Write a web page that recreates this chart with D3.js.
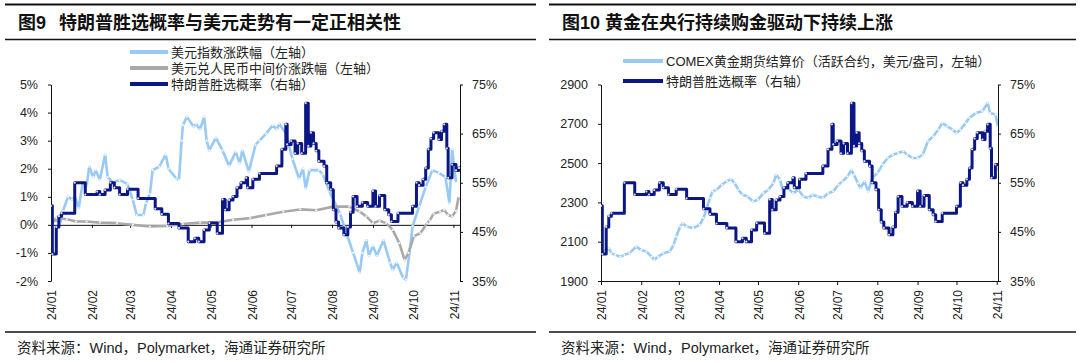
<!DOCTYPE html>
<html>
<head>
<meta charset="utf-8">
<script src="https://cdn.jsdelivr.net/npm/d3@7"></script>
<style>
  body { margin: 0; background: #fff; }
  svg { display: block; font-family: "Liberation Sans", Arial, "Noto Sans CJK SC", sans-serif; }
  .cjk { font-family: "Liberation Sans", "Noto Sans CJK SC", sans-serif; }
</style>
</head>
<body>
<div id="chart"></div>
<script>
/* CONSTANTS */
const W = 1080, H = 363;
const navy = "#0b1784", sky = "#99c9f5", grey = "#a9a9a9";

/* DATA */
// 特朗普胜选概率 (%), Polymarket
const trumpProb = [
  ["2024-01-01", 50.3], ["2024-01-02", 40.5], ["2024-01-05", 46], ["2024-01-07", 48.2], ["2024-01-09", 48.8],
  ["2024-01-19", 55], ["2024-01-27", 52.6], ["2024-02-05", 53.2], ["2024-02-07", 52.6], ["2024-02-11", 53.5],
  ["2024-02-15", 55], ["2024-02-18", 54], ["2024-02-22", 52.6], ["2024-02-28", 53.7], ["2024-03-07", 51.8],
  ["2024-03-20", 49.7], ["2024-03-25", 48.6], ["2024-03-30", 46.7], ["2024-04-07", 45.8], ["2024-04-14", 43],
  ["2024-04-19", 43.7], ["2024-04-22", 43], ["2024-04-26", 45.4], ["2024-04-30", 46.8], ["2024-05-06", 44.7],
  ["2024-05-10", 51.6], ["2024-05-12", 49.5], ["2024-05-15", 51.5], ["2024-05-18", 52.2], ["2024-05-21", 54],
  ["2024-05-24", 55], ["2024-05-28", 56], ["2024-05-29", 54], ["2024-06-02", 55.7], ["2024-06-07", 56.9],
  ["2024-06-20", 58.4], ["2024-06-24", 61.8], ["2024-06-27", 66.9], ["2024-06-28", 62.8], ["2024-07-01", 63.5],
  ["2024-07-04", 61], ["2024-07-06", 63], ["2024-07-09", 61], ["2024-07-12", 71.2], ["2024-07-14", 62.5],
  ["2024-07-16", 65.2], ["2024-07-18", 63], ["2024-07-20", 61.5], ["2024-07-22", 59.4], ["2024-07-26", 58.4],
  ["2024-07-28", 55], ["2024-07-31", 53.6], ["2024-08-02", 49.5], ["2024-08-04", 47], ["2024-08-06", 45.8],
  ["2024-08-10", 44.4], ["2024-08-13", 46], ["2024-08-15", 49], ["2024-08-17", 52.2], ["2024-08-20", 50.2],
  ["2024-08-24", 51], ["2024-08-28", 50.2], ["2024-09-01", 53.3], ["2024-09-03", 50.2], ["2024-09-06", 52.4],
  ["2024-09-10", 49.5], ["2024-09-13", 48.5], ["2024-09-15", 47.1], ["2024-09-20", 48.8], ["2024-10-01", 50.2],
  ["2024-10-04", 55], ["2024-10-06", 54.5], ["2024-10-09", 55.7], ["2024-10-11", 58], ["2024-10-13", 61.8],
  ["2024-10-15", 64], ["2024-10-17", 65.2], ["2024-10-21", 63.8], ["2024-10-23", 65.5], ["2024-10-25", 66.9],
  ["2024-10-27", 62], ["2024-10-28", 56], ["2024-10-31", 58.7], ["2024-11-03", 57.5], ["2024-11-05", 58],
  ["2024-11-06", 58]
];

// 美元指数涨跌幅 (%)
const dxyChange = [
  ["2024-01-01", 0.0], ["2024-01-04", 0.2], ["2024-01-08", 0.05], ["2024-01-10", 0.5], ["2024-01-14", 1.0],
  ["2024-01-17", 0.9], ["2024-01-19", 1.0], ["2024-01-22", 0.6], ["2024-01-25", 1.5], ["2024-01-28", 1.4],
  ["2024-01-30", 2.07], ["2024-02-02", 1.7], ["2024-02-04", 1.95], ["2024-02-07", 1.6], ["2024-02-11", 2.5],
  ["2024-02-13", 1.7], ["2024-02-17", 1.5], ["2024-02-22", 1.6], ["2024-02-28", 1.45], ["2024-03-03", 0.9],
  ["2024-03-06", 0.35], ["2024-03-11", 0.35], ["2024-03-13", 0.77], ["2024-03-16", 1.1], ["2024-03-18", 1.95],
  ["2024-03-23", 2.07], ["2024-03-28", 2.5], ["2024-03-30", 2.0], ["2024-04-05", 1.65], ["2024-04-07", 1.6],
  ["2024-04-09", 3.0], ["2024-04-10", 3.55], ["2024-04-13", 3.85], ["2024-04-18", 3.5], ["2024-04-20", 3.6],
  ["2024-04-23", 3.4], ["2024-04-26", 3.85], ["2024-04-28", 3.0], ["2024-04-30", 2.65], ["2024-05-05", 3.1],
  ["2024-05-10", 2.65], ["2024-05-15", 2.1], ["2024-05-20", 2.6], ["2024-05-23", 2.2], ["2024-05-25", 2.65],
  ["2024-05-30", 1.9], ["2024-06-04", 2.85], ["2024-06-07", 3.0], ["2024-06-12", 3.25], ["2024-06-17", 3.55],
  ["2024-06-20", 3.4], ["2024-06-22", 3.6], ["2024-06-27", 3.25], ["2024-07-02", 2.35], ["2024-07-07", 1.65],
  ["2024-07-10", 2.0], ["2024-07-12", 1.3], ["2024-07-15", 1.95], ["2024-07-22", 1.95], ["2024-07-25", 1.8],
  ["2024-07-30", 1.2], ["2024-08-02", 0.9], ["2024-08-07", 0.4], ["2024-08-12", -0.3], ["2024-08-17", -1.0],
  ["2024-08-22", -1.7], ["2024-08-24", -1.0], ["2024-08-27", -0.55], ["2024-08-29", -1.1], ["2024-09-01", -0.75],
  ["2024-09-04", -1.1], ["2024-09-09", -0.55], ["2024-09-14", -1.35], ["2024-09-16", -1.6], ["2024-09-19", -1.35],
  ["2024-09-24", -1.9], ["2024-09-26", -1.95], ["2024-09-29", -0.9], ["2024-10-01", -0.05], ["2024-10-06", 0.65],
  ["2024-10-11", 1.35], ["2024-10-16", 1.95], ["2024-10-21", 1.85], ["2024-10-26", 1.7], ["2024-10-29", 0.77],
  ["2024-10-31", 2.7], ["2024-11-03", 1.5]
];

// 美元兑人民币中间价涨跌幅 (%)
const cnyChange = [
  ["2024-01-01", 0.0], ["2024-01-05", 0.25], ["2024-01-13", 0.2], ["2024-01-20", 0.12], ["2024-01-28", 0.12],
  ["2024-02-07", 0.08], ["2024-02-20", 0.06], ["2024-03-03", 0.0], ["2024-03-16", -0.06], ["2024-03-29", -0.04],
  ["2024-04-10", 0.03], ["2024-04-23", 0.08], ["2024-05-05", 0.08], ["2024-05-18", 0.18], ["2024-05-31", 0.24],
  ["2024-06-12", 0.35], ["2024-06-25", 0.47], ["2024-07-08", 0.55], ["2024-07-20", 0.52], ["2024-08-02", 0.65],
  ["2024-08-14", 0.65], ["2024-08-22", 0.47], ["2024-08-27", 0.3], ["2024-09-01", 0.06], ["2024-09-06", 0.15],
  ["2024-09-11", 0.06], ["2024-09-16", -0.18], ["2024-09-21", -0.65], ["2024-09-25", -1.25], ["2024-09-28", -1.0],
  ["2024-10-02", -0.4], ["2024-10-07", -0.3], ["2024-10-12", 0.06], ["2024-10-14", 0.15], ["2024-10-17", 0.4],
  ["2024-10-22", 0.47], ["2024-10-25", 0.53], ["2024-10-28", 0.35], ["2024-10-31", 0.3], ["2024-11-03", 0.5],
  ["2024-11-05", 1.0]
];

// COMEX黄金期货结算价 (美元/盎司)
const goldPrice = [
  ["2024-01-02", 2060], ["2024-01-04", 2050], ["2024-01-07", 2067], ["2024-01-09", 2041], ["2024-01-12", 2033],
  ["2024-01-16", 2024], ["2024-01-19", 2033], ["2024-01-23", 2041], ["2024-01-28", 2075], ["2024-02-01", 2058],
  ["2024-02-05", 2050], ["2024-02-09", 2024], ["2024-02-11", 2007], ["2024-02-14", 2024], ["2024-02-18", 2041],
  ["2024-02-23", 2050], ["2024-02-26", 2084], ["2024-02-28", 2126], ["2024-03-02", 2177], ["2024-03-04", 2194],
  ["2024-03-07", 2177], ["2024-03-12", 2169], ["2024-03-17", 2186], ["2024-03-20", 2220], ["2024-03-22", 2262],
  ["2024-03-25", 2322], ["2024-03-27", 2356], ["2024-03-30", 2364], ["2024-04-03", 2390], ["2024-04-07", 2407],
  ["2024-04-10", 2419], ["2024-04-13", 2398], ["2024-04-16", 2364], ["2024-04-19", 2339], ["2024-04-23", 2330],
  ["2024-04-27", 2305], ["2024-05-01", 2313], ["2024-05-05", 2347], ["2024-05-09", 2364], ["2024-05-13", 2398],
  ["2024-05-15", 2441], ["2024-05-18", 2415], ["2024-05-20", 2364], ["2024-05-24", 2373], ["2024-05-28", 2347],
  ["2024-06-01", 2364], ["2024-06-05", 2330], ["2024-06-09", 2322], ["2024-06-12", 2339], ["2024-06-16", 2330],
  ["2024-06-20", 2322], ["2024-06-24", 2347], ["2024-06-28", 2356], ["2024-07-02", 2390], ["2024-07-05", 2407],
  ["2024-07-09", 2432], ["2024-07-12", 2466], ["2024-07-14", 2441], ["2024-07-17", 2398], ["2024-07-19", 2373],
  ["2024-07-22", 2407], ["2024-07-25", 2356], ["2024-07-28", 2424], ["2024-08-01", 2449], ["2024-08-05", 2492],
  ["2024-08-09", 2526], ["2024-08-13", 2543], ["2024-08-17", 2551], ["2024-08-21", 2560], ["2024-08-24", 2543],
  ["2024-08-28", 2526], ["2024-09-01", 2526], ["2024-09-05", 2543], ["2024-09-09", 2611], ["2024-09-13", 2636],
  ["2024-09-17", 2670], ["2024-09-20", 2704], ["2024-09-24", 2687], ["2024-09-28", 2670], ["2024-10-01", 2653],
  ["2024-10-04", 2670], ["2024-10-08", 2704], ["2024-10-11", 2730], ["2024-10-16", 2755], ["2024-10-21", 2764],
  ["2024-10-25", 2806], ["2024-10-27", 2755], ["2024-10-31", 2747], ["2024-11-02", 2687]
];

const monthTicks = ["24/01", "24/02", "24/03", "24/04", "24/05", "24/06", "24/07", "24/08", "24/09", "24/10", "24/11"];
const leftTicksA = [-2, -1, 0, 1, 2, 3, 4, 5];
const rightTicks = [35, 45, 55, 65, 75];
const leftTicksB = [1900, 2100, 2300, 2500, 2700, 2900];

const parse = d3.timeParse("%Y-%m-%d");
const toPts = arr => arr.map(([d, v]) => ({ date: parse(d), value: v }));
const tickDates = monthTicks.map(t => parse("20" + t.slice(0, 2) + "-" + t.slice(3) + "-01"));

const svg = d3.select("#chart").append("svg").attr("width", W).attr("height", H);

/* FRAME: rules, titles, source */
function frame(x0, x1, titleX, titleParts) {
  svg.append("line").attr("x1", x0).attr("x2", x1).attr("y1", 4.5).attr("y2", 4.5)
    .attr("stroke", "#111").attr("stroke-width", 2);
  svg.append("line").attr("x1", x0).attr("x2", x1).attr("y1", 39.5).attr("y2", 39.5)
    .attr("stroke", "#111").attr("stroke-width", 1.5);
  svg.append("line").attr("x1", x0).attr("x2", x1).attr("y1", 332).attr("y2", 332)
    .attr("stroke", "#111").attr("stroke-width", 1.5);
  const t = svg.append("text").attr("class", "cjk").attr("x", titleX).attr("y", 29)
    .attr("font-size", 18).attr("font-weight", "bold").attr("fill", "#111");
  titleParts.forEach(p => t.append("tspan").attr("x", p.x).text(p.text));
  svg.append("text").attr("class", "cjk").attr("x", titleX - 1).attr("y", 353)
    .attr("font-size", 14.5).attr("fill", "#222")
    .text("资料来源：Wind，Polymarket，海通证券研究所");
}

frame(5, 536, 18, [{ x: 18, text: "图9" }, { x: 59, text: "特朗普胜选概率与美元走势有一定正相关性" }]);
frame(549, 1076, 562, [{ x: 562, text: "图10 黄金在央行持续购金驱动下持续上涨" }]);

/* PANEL DRAWER */
function panel(cfg) {
  const { xL, xR, yT, yB, end, leftDomain, leftTicks, leftFmt, zeroAxis, series, legend, id } = cfg;
  const x = d3.scaleTime().domain([parse("2024-01-01"), parse(end)]).range([xL, xR]);
  const yLeft = d3.scaleLinear().domain(leftDomain).range([yB, yT]);
  const yRight = d3.scaleLinear().domain([35, 75]).range([yB, yT]);

  svg.append("clipPath").attr("id", id).append("rect")
    .attr("x", xL).attr("y", yT - 10).attr("width", xR - xL).attr("height", yB - yT + 12);

  // x axis line + month ticks
  const xAxisY = zeroAxis ? yLeft(0) : yB;
  const xAxis = svg.append("g").attr("transform", `translate(0,${xAxisY})`)
    .call(d3.axisBottom(x).tickValues(tickDates).tickSize(zeroAxis ? 3 : 4).tickFormat("").tickSizeOuter(0));
  xAxis.select(".domain").attr("stroke", "#111");
  xAxis.selectAll(".tick line").attr("stroke", "#111");

  svg.append("g").selectAll("text").data(tickDates).join("text")
    .attr("transform", (d, i) => `translate(${x(d) + 1},290) rotate(-90)`)
    .attr("text-anchor", "end").attr("dy", "0.36em")
    .attr("font-size", 12).attr("fill", "#222")
    .text((d, i) => monthTicks[i]);

  // left axis
  const gl = svg.append("g").attr("transform", `translate(${xL},0)`)
    .call(d3.axisLeft(yLeft).tickValues(leftTicks).tickSize(3).tickSizeOuter(0).tickPadding(10).tickFormat(leftFmt));
  gl.select(".domain").attr("stroke", "#111");
  gl.selectAll(".tick line").attr("stroke", "#111");
  gl.selectAll("text").attr("font-size", 12.5).attr("fill", "#222").attr("font-family", "Liberation Sans, Arial");

  // right axis
  const gr = svg.append("g").attr("transform", `translate(${xR},0)`)
    .call(d3.axisRight(yRight).tickValues(rightTicks).tickSize(3).tickSizeOuter(0).tickPadding(9).tickFormat(d => d + "%"));
  gr.select(".domain").attr("stroke", "#111");
  gr.selectAll(".tick line").attr("stroke", "#111");
  gr.selectAll("text").attr("font-size", 12.5).attr("fill", "#222").attr("font-family", "Liberation Sans, Arial");

  // series
  const plot = svg.append("g").attr("clip-path", `url(#${id})`);
  series.forEach(s => {
    const y = s.axis === "right" ? yRight : yLeft;
    const pts = toPts(s.data);
    const line = d3.line().x(d => x(d.date)).y(d => y(d.value)).curve(s.step ? d3.curveStepAfter : d3.curveLinear);
    plot.append("path").datum(pts)
      .attr("fill", "none").attr("stroke", s.color).attr("stroke-width", s.width)
      .attr("stroke-linejoin", "round").attr("d", line);
    plot.append("g").selectAll("circle").data(pts).join("circle")
      .attr("cx", d => x(d.date)).attr("cy", d => y(d.value)).attr("r", 1.1)
      .attr("fill", "#fff").attr("opacity", 0.85);
  });

  // legend
  const lg = svg.append("g");
  legend.items.forEach((it, i) => {
    const yy = legend.y + i * legend.dy;
    lg.append("line").attr("x1", legend.x).attr("x2", legend.x + legend.len).attr("y1", yy).attr("y2", yy)
      .attr("stroke", it.color).attr("stroke-width", 4);
    lg.append("text").attr("class", "cjk").attr("x", legend.x + legend.len + 3).attr("y", yy)
      .attr("dy", "0.36em").attr("font-size", 13).attr("fill", "#222").text(it.label);
  });
}

panel({
  id: "clipA", xL: 51, xR: 460, yT: 84.5, yB: 281, end: "2024-11-06",
  leftDomain: [-2, 5], leftTicks: leftTicksA, leftFmt: d => d + "%", zeroAxis: true,
  series: [
    { data: dxyChange, color: sky, width: 2.6, axis: "left" },
    { data: cnyChange, color: grey, width: 2.6, axis: "left" },
    { data: trumpProb, color: navy, width: 3, axis: "right", step: true }
  ],
  legend: { x: 130, y: 52, dy: 16, len: 38, items: [
    { color: sky, label: "美元指数涨跌幅（左轴）" },
    { color: grey, label: "美元兑人民币中间价涨跌幅（左轴）" },
    { color: navy, label: "特朗普胜选概率（右轴）" }
  ] }
});

panel({
  id: "clipB", xL: 601, xR: 998, yT: 84.5, yB: 281, end: "2024-11-02",
  leftDomain: [1900, 2900], leftTicks: leftTicksB, leftFmt: d => d, zeroAxis: false,
  series: [
    { data: goldPrice, color: sky, width: 2.6, axis: "left" },
    { data: trumpProb, color: navy, width: 3, axis: "right", step: true }
  ],
  legend: { x: 623, y: 61, dy: 20, len: 40, items: [
    { color: sky, label: "COMEX黄金期货结算价（活跃合约，美元/盎司，左轴）" },
    { color: navy, label: "特朗普胜选概率（右轴）" }
  ] }
});
</script>
</body>
</html>
